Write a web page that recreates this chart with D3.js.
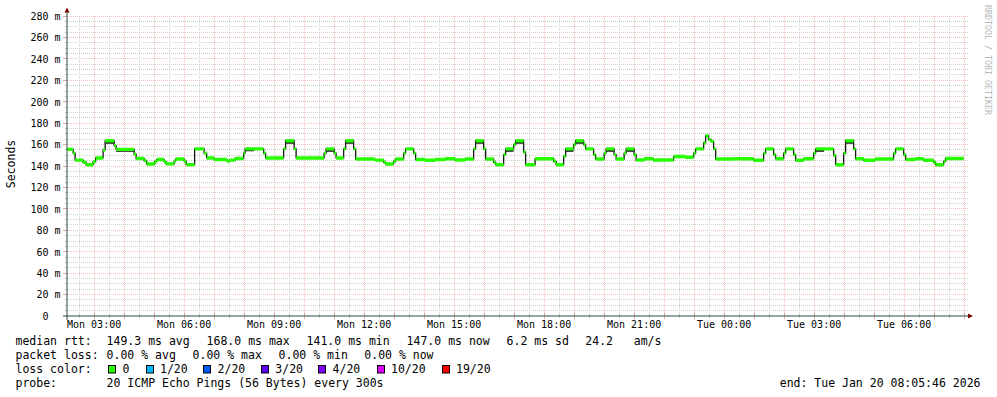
<!DOCTYPE html>
<html><head><meta charset="utf-8">
<script src="https://cdn.jsdelivr.net/npm/d3@7"></script>
<style>
html,body{margin:0;padding:0;background:#fff;}
svg{display:block;}
text{font-family:'DejaVu Sans Mono',monospace;}
</style>
</head><body>
<svg id="c" width="997" height="397"></svg>
<script>
// ---- data ----
const startTime = new Date(2026, 0, 19, 2, 5, 46);
const endTime = new Date(2026, 0, 20, 8, 5, 46);
// minutes after Mon 2026-01-19 00:00 where each median step begins
const rttMinutes = [126,138,142,158,164,178,183,198,202,220,224,260,264,280,285,301,305,320,324,340,343,360,364,381,400,405,420,446,451,462,479,482,519,523,559,563,580,584,640,644,660,664,679,683,699,703,742,759,763,779,783,799,803,819,823,842,862,882,902,922,939,943,959,963,979,983,999,1003,1019,1023,1039,1043,1062,1099,1104,1119,1123,1139,1143,1159,1163,1179,1183,1200,1204,1220,1224,1240,1244,1260,1264,1280,1299,1306,1339,1362,1379,1383,1399,1403,1409,1414,1419,1423,1459,1499,1519,1523,1539,1543,1559,1563,1579,1583,1599,1619,1623,1659,1663,1679,1683,1699,1703,1719,1742,1779,1783,1799,1803,1822,1839,1859,1863,1879,1883];
// median rtt (ms) of each step
const rttMedian = [155.5,152,145.5,143.5,141.2,144,147.5,155,163.5,159,155.5,151,147,145,141.8,144,146,144,142,144.5,146.5,144.5,141.3,156,152,147.5,146,144.5,145.5,147,152,156,152,147.5,156,163.6,156,147.5,152,156,152,147.5,156,163.6,156,146.5,145.5,143.5,141.9,144.4,146.5,152,156,152,146,145.3,146,146.8,145.6,146.5,156,163.6,156,146.5,143.5,141.2,150.6,156,160,163.6,153,141.2,146.8,144.4,141.2,149,156,160,163.6,160,156,150.6,146.5,152,156,150.6,146.5,152,156,150.6,145.6,146.8,145.3,145.6,148.8,148.2,152,156,161.5,168,164.6,163,156,146.5,146.8,145.3,152,156,150.6,146.8,152,156,150.6,145.3,146.8,152,156,150,141.2,152,163.6,156,146.8,145.3,146.5,152,156,150.6,146,146.8,145.3,143.5,141.2,144.4,147];
const rttLastMinute = 1919;
// smoke (ping spread) extending below the median
const smokeStart = [202,224,482,563,644,683,943,1003,1023,1123,1143,1204,1244,1623,1683];
const smokeEnd   = [220,260,500,580,660,699,959,1019,1039,1139,1159,1220,1260,1640,1699];
const smokeLow   = [161.5,154,154.5,161.5,154,161.5,161.5,154,161.5,154,161.5,154,154,154,161.5];

const yTickValues = d3.range(0, 281, 20);
const statTexts = ["149.3 ms avg","168.0 ms max","141.0 ms min","147.0 ms now","6.2 ms sd","24.2   am/s"];
const lossTexts = ["0.00 % avg","0.00 % max","0.00 % min","0.00 % now"];
const lossLabels = ["0","1/20","2/20","3/20","4/20","10/20","19/20"];
const lossColors = ["#26ff00","#00b8ff","#0059ff","#5e00ff","#7e00ff","#dd00ff","#ff0000"];
const probeText = "20 ICMP Echo Pings (56 Bytes) every 300s";
const endText = "end: Tue Jan 20 08:05:46 2026";

// ---- drawing ----
const svg = d3.select("#c");
svg.append("rect").attr("width",997).attr("height",397).attr("fill","#fff");
const L = 67, R = 967, T = 16, B = 316;
const x = d3.scaleTime().domain([startTime, endTime]).range([L, R]);
const y = d3.scaleLinear().domain([0, 280]).range([B, T]);
const toDate = m => new Date(2026, 0, 19, 0, m);

const minorCol = "#d2d2d2", majorCol = "#efc4bd";
const grid = svg.append("g");
// horizontal grid
d3.range(0, 281, 5).forEach(v => {
  if (v === 0) return;
  const yy = Math.floor(y(v)) + 0.5;
  const major = v % 20 === 0;
  grid.append("line").attr("x1", L).attr("x2", R + 1).attr("y1", yy).attr("y2", yy)
    .attr("stroke", major ? majorCol : minorCol).attr("stroke-dasharray", "1,1");
  svg.append("line").attr("x1", major ? 63 : 65).attr("x2", 67).attr("y1", yy).attr("y2", yy)
    .attr("stroke", major ? "#e0aaa2" : "#c4c4c4");
});
// vertical grid
d3.timeMinute.every(30).range(startTime, endTime).forEach(t => {
  const xx = Math.floor(x(t)) + 0.5;
  const major = t.getMinutes() === 0;
  grid.append("line").attr("x1", xx).attr("x2", xx).attr("y1", T).attr("y2", B)
    .attr("stroke", major ? majorCol : minorCol).attr("stroke-dasharray", "1,1");
  svg.append("line").attr("x1", xx).attr("x2", xx).attr("y1", major ? 313 : 314).attr("y2", major ? 319 : 318)
    .attr("stroke", major ? "#e0aaa2" : "#c4c4c4");
});

// data series
const pts = rttMinutes.map((m, i) => ({t: toDate(m), v: rttMedian[i]}));
pts.push({t: toDate(rttLastMinute), v: rttMedian[rttMedian.length - 1]});

svg.append("path").datum(pts)
  .attr("d", d3.line().x(d => x(d.t)).y(d => y(d.v)).curve(d3.curveStepAfter))
  .attr("fill", "none").attr("stroke", "#151515").attr("stroke-width", 1.3);

const bis = d3.bisector(d => d).right;
smokeStart.forEach((s, i) => {
  const med = rttMedian[bis(rttMinutes, s) - 1];
  const y0 = y(med), y1 = y(smokeLow[i]) + 0.8;
  svg.append("rect").attr("x", x(toDate(s))).attr("width", x(toDate(smokeEnd[i])) - x(toDate(s)))
    .attr("y", y0).attr("height", y1 - y0).attr("fill", "#1e1e1e");
});

svg.append("path").datum(pts)
  .attr("d", d3.area().x(d => x(d.t)).y0(d => y(d.v) + 1.7).y1(d => y(d.v) - 1.7).curve(d3.curveStepAfter))
  .attr("fill", lossColors[0]);

// axes
svg.append("line").attr("x1", 67).attr("x2", 67).attr("y1", 320).attr("y2", 12).attr("stroke", "#2C4D43");
svg.append("line").attr("x1", 63).attr("x2", 968).attr("y1", 316).attr("y2", 316).attr("stroke", "#2C4D43");
svg.append("polygon").attr("points", "64.5,12.5 69.5,12.5 67,7.5").attr("fill", "#7F0000");
svg.append("polygon").attr("points", "968,313.5 968,318.5 973,316").attr("fill", "#7F0000");

// y labels
yTickValues.forEach(v => {
  svg.append("text").attr("x", v === 0 ? 48.5 : 60.5).attr("y", y(v) + 3.8)
    .attr("text-anchor", "end").attr("font-size", 10).attr("fill", "#000")
    .text(v === 0 ? "0" : v + " m");
});
// x labels
const fmt = d3.timeFormat("%a %H:%M");
d3.timeHour.every(3).range(startTime, endTime).forEach(t => {
  svg.append("text").attr("x", x(t)).attr("y", 328).attr("text-anchor", "middle")
    .attr("font-size", 10).attr("fill", "#000").text(fmt(t));
});

// axis title
svg.append("text").attr("transform", "translate(15,164) rotate(-90)").attr("text-anchor", "middle")
  .attr("font-size", 11.5).attr("fill", "#000").text("Seconds");
// watermark
svg.append("text").attr("transform", "translate(985,5) rotate(90)")
  .attr("font-size", 8.3).attr("fill", "#b8b8b8").text("RRDTOOL / TOBI OETIKER");

// legend
const lg = svg.append("g").attr("font-size", 11.5).attr("fill", "#000");
lg.append("text").attr("x", 15.5).attr("y", 345).text("median rtt:");
[106.6, 206.6, 306.6, 406.6, 506.6, 585.3].forEach((xx, i) =>
  lg.append("text").attr("x", xx).attr("y", 345).attr("xml:space", "preserve").style("white-space", "pre").text(statTexts[i]));
lg.append("text").attr("x", 15.5).attr("y", 359).text("packet loss:");
[106.6, 192.6, 278.6, 364.3].forEach((xx, i) =>
  lg.append("text").attr("x", xx).attr("y", 359).text(lossTexts[i]));
lg.append("text").attr("x", 15.5).attr("y", 373).text("loss color:");
[108.3, 145.7, 203.3, 261, 318.3, 376.7, 441.7].forEach((xx, i) => {
  lg.append("rect").attr("x", Math.round(xx) + 0.5).attr("y", 365.5).attr("width", 7).attr("height", 7.5)
    .attr("fill", lossColors[i]).attr("stroke", "#000").attr("stroke-width", 1);
  lg.append("text").attr("x", xx + 14.3).attr("y", 373).text(lossLabels[i]);
});
lg.append("text").attr("x", 15.5).attr("y", 387).text("probe:");
lg.append("text").attr("x", 106.6).attr("y", 387).text(probeText);
lg.append("text").attr("x", 980.5).attr("y", 387).attr("text-anchor", "end").text(endText);
</script>
</body></html>
